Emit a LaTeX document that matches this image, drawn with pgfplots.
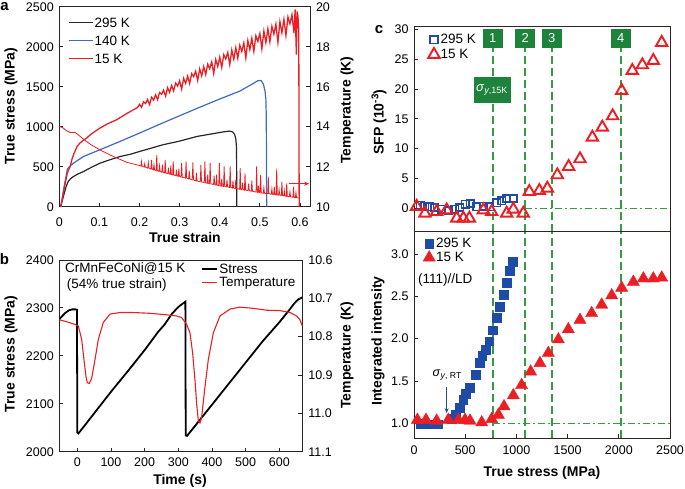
\documentclass[border=0pt]{standalone}
\usepackage{fontspec}
\setmainfont{Liberation Sans}
\usepackage{pgfplots}
\pgfplotsset{compat=1.18}
\usetikzlibrary{arrows.meta}
\definecolor{myred}{RGB}{235,30,36}
\definecolor{ablue}{RGB}{62,105,200}
\definecolor{cblue}{RGB}{30,75,165}
\definecolor{gline}{RGB}{55,155,65}
\definecolor{gbox}{RGB}{28,130,60}
\definecolor{axcol}{RGB}{45,35,35}
\pgfplotsset{
  base/.style={scale only axis, axis line style={axcol, line width=0.9pt}, tick style={axcol, line width=0.9pt},
    tick align=inside, major tick length=4pt,
    tick label style={font=\fontsize{12.5}{14}\selectfont},
    /pgf/number format/assume math mode=true, /pgf/number format/1000 sep={}},
}
\tikzset{lbl/.style={font=\fontsize{14}{16}\selectfont\bfseries}}
\begin{document}
\begin{tikzpicture}
\useasboundingbox (0pt,0pt) rectangle (685pt,-489pt);

% ---------------- Panel a ----------------
\begin{axis}[base, at={(59.3pt,-206.7pt)}, anchor=south west, width=250.7pt, height=200pt,
  xmin=0, xmax=0.625, ymin=0, ymax=2500,
  xtick={0,0.1,0.2,0.3,0.4,0.5,0.6}, ytick={0,500,1000,1500,2000,2500},
  xtick pos=bottom, ytick pos=left,
  xticklabel style={yshift=-7.5pt}, yticklabel style={xshift=-2pt},
  legend style={at={(0.035,0.95)}, anchor=north west, draw=none, fill=none,
    font=\fontsize{13.5}{15}\selectfont, inner sep=0pt, nodes={inner sep=1pt, text height=10pt, text depth=6pt}},
  legend cell align=left,
  legend image code/.code={\draw[#1] (0pt,3.5pt) -- (24pt,3.5pt);}]
\addplot[black!85, line width=1.2pt] coordinates {(0.003,0)(0.010,125)(0.017,251)(0.022,313)(0.028,350)(0.035,376)(0.045,405)(0.060,439)(0.080,492)(0.101,543)(0.125,585)(0.151,627)(0.177,655)(0.200,690)(0.259,775)(0.300,820)(0.343,878)(0.409,935)(0.425,945)(0.432,935)(0.437,905)(0.440,850)(0.4415,760)(0.442,600)(0.4425,0)};
\addlegendentry{295 K}
\addplot[ablue, line width=1.2pt] coordinates {(0.004,0)(0.012,250)(0.020,470)(0.025,500)(0.035,543)(0.060,627)(0.101,711)(0.151,815)(0.200,920)(0.250,1030)(0.300,1137)(0.350,1243)(0.400,1346)(0.450,1445)(0.480,1530)(0.495,1575)(0.503,1578)(0.509,1530)(0.513,1440)(0.515,1340)(0.516,1130)(0.517,0)};
\addlegendentry{140 K}
\addplot[myred, line width=1.3pt] coordinates {(0.003,0)(0.006,60)(0.010,170)(0.014,272)(0.020,420)(0.027,502)(0.032,600)(0.037,669)(0.044,750)(0.051,794)(0.060,830)(0.068,857)(0.080,910)(0.101,982)(0.120,1035)(0.143,1087)(0.170,1170)(0.195,1240)
(0.200,1280)(0.205,1243)(0.210,1310)(0.215,1290)(0.220,1339)(0.225,1276)(0.230,1369)(0.235,1332)(0.240,1398)(0.245,1338)(0.250,1428)(0.255,1406)(0.260,1457)(0.265,1381)(0.270,1487)(0.275,1429)(0.280,1516)(0.285,1447)(0.290,1546)(0.295,1507)(0.300,1575)(0.305,1470)(0.310,1605)(0.315,1542)(0.320,1634)(0.325,1539)(0.330,1664)(0.335,1626)(0.340,1693)(0.345,1578)(0.350,1723)(0.355,1636)(0.360,1752)(0.365,1651)(0.370,1782)(0.375,1724)(0.380,1811)(0.385,1665)(0.390,1841)(0.395,1753)(0.400,1870)(0.405,1740)(0.410,1900)(0.415,1846)(0.420,1929)(0.425,1776)(0.430,1959)(0.435,1843)(0.440,1988)(0.445,1855)(0.450,2018)(0.455,1941)(0.460,2047)(0.465,1859)(0.470,2077)(0.475,1963)(0.480,2106)(0.485,1941)(0.490,2136)(0.495,2066)(0.500,2165)(0.505,1974)(0.510,2195)(0.515,2051)(0.520,2224)(0.525,2059)(0.530,2254)(0.535,2158)(0.540,2283)(0.545,2054)(0.550,2313)(0.555,2173)(0.560,2342)(0.565,2141)(0.570,2372)(0.575,2286)(0.580,2401)(0.585,2171)(0.588,2465)(0.591,1900)(0.593,2440)(0.595,2380)(0.597,2200)(0.598,0)};
\addlegendentry{15 K}
\end{axis}
\begin{axis}[base, at={(59.3pt,-206.7pt)}, anchor=south west, width=250.7pt, height=200pt,
  xmin=0, xmax=0.625, ymin=10, ymax=20, axis x line=none, axis y line*=right,
  ytick={10,12,14,16,18,20}, yticklabel style={xshift=2.5pt}]
\addplot[myred, line width=0.8pt] coordinates {(0,14.01)(0.005,13.98)(0.010,13.93)(0.018,13.80)(0.027,13.71)(0.039,13.71)(0.047,13.60)(0.060,13.38)(0.076,13.14)(0.101,12.84)(0.135,12.51)(0.168,12.22)(0.200,12.06)
(0.2035,12.03)(0.205,12.26)(0.2065,12.03)(0.2115,11.98)(0.213,12.15)(0.2145,11.98)(0.2205,11.93)(0.222,12.20)(0.2235,11.93)(0.2285,11.88)(0.230,12.34)(0.2315,11.88)(0.2345,11.84)(0.236,12.10)(0.2375,11.84)(0.2415,11.80)(0.243,12.59)(0.2445,11.80)(0.2485,11.76)(0.250,12.05)(0.2515,11.76)(0.2555,11.72)(0.257,12.10)(0.2585,11.72)(0.2625,11.69)(0.264,12.34)(0.2655,11.69)(0.2705,11.65)(0.272,11.95)(0.2735,11.65)(0.2765,11.62)(0.278,12.05)(0.2795,11.62)(0.2825,11.59)(0.284,12.26)(0.2855,11.59)(0.2905,11.55)(0.292,11.85)(0.2935,11.55)(0.2965,11.52)(0.298,11.90)(0.2995,11.52)
(0.3035,11.48)(0.305,12.18)(0.3065,11.48)(0.3145,11.43)(0.316,12.26)(0.3175,11.43)(0.3225,11.39)(0.324,11.80)(0.3255,11.39)(0.3315,11.34)(0.333,12.21)(0.3345,11.34)(0.3405,11.29)(0.342,11.70)(0.3435,11.29)(0.3515,11.24)(0.353,12.09)(0.3545,11.24)(0.3615,11.20)(0.363,12.26)(0.3645,11.20)(0.3685,11.17)(0.370,11.60)(0.3715,11.17)(0.3745,11.15)(0.376,12.18)(0.3775,11.15)(0.3845,11.11)(0.386,11.55)(0.3875,11.11)(0.3905,11.08)(0.392,11.60)(0.3935,11.08)(0.3975,11.05)(0.399,12.18)(0.4005,11.05)
(0.4035,11.03)(0.405,11.40)(0.4065,11.03)(0.4095,11.01)(0.411,12.01)(0.4125,11.01)(0.4165,10.99)(0.418,11.35)(0.4195,10.99)(0.4245,10.96)(0.426,12.01)(0.4275,10.96)(0.4315,10.93)(0.433,11.30)(0.4345,10.93)(0.4385,10.91)(0.440,11.35)(0.4415,10.91)(0.4495,10.87)(0.451,11.93)(0.4525,10.87)(0.4555,10.85)(0.457,11.20)(0.4585,10.85)(0.4615,10.83)(0.463,11.67)(0.4645,10.83)(0.4705,10.80)(0.472,11.15)(0.4735,10.80)(0.4785,10.77)(0.480,11.30)(0.4815,10.77)(0.4905,10.73)(0.492,12.01)(0.4935,10.73)(0.4955,10.71)(0.497,11.05)(0.4985,10.71)
(0.5005,10.69)(0.502,11.59)(0.5035,10.69)(0.5085,10.67)(0.510,10.95)(0.5115,10.67)(0.5195,10.65)(0.521,11.50)(0.5225,10.65)(0.5285,10.62)(0.530,10.90)(0.5315,10.62)(0.5345,10.61)(0.536,11.00)(0.5375,10.61)(0.5405,10.59)(0.542,11.90)(0.5435,10.59)(0.5465,10.58)(0.548,10.85)(0.5495,10.58)(0.5535,10.56)(0.555,11.25)(0.5565,10.56)(0.5595,10.54)(0.561,10.80)(0.5625,10.54)(0.5655,10.52)(0.567,11.17)(0.5685,10.52)(0.5735,10.50)(0.575,10.75)(0.5765,10.50)(0.5825,10.47)(0.584,11.00)(0.5855,10.47)(0.5885,10.45)(0.590,10.70)(0.5915,10.45)(0.597,10.43)};
\draw[myred, line width=1pt, -{Stealth[length=5pt,width=4pt]}] (axis cs:0.572,11.15) -- (axis cs:0.623,11.15);
\end{axis}

% ---------------- Panel b ----------------
\begin{axis}[base, at={(59.3pt,-451.7pt)}, anchor=south west, width=243pt, height=191.7pt,
  xmin=-53.5, xmax=668.3, ymin=2000, ymax=2400,
  xtick={0,100,200,300,400,500,600}, ytick={2000,2100,2200,2300,2400},
  xtick pos=bottom, ytick pos=left,
  xticklabel style={yshift=-3pt}, yticklabel style={xshift=-2pt},
  legend style={at={(0.583,0.99)}, anchor=north west, draw=none, fill=none,
    font=\fontsize{13.5}{15}\selectfont, row sep=0pt, inner sep=0pt, nodes={inner sep=1.5pt}},
  legend cell align=left,
  legend image code/.code={\draw[#1] (0pt,0pt) -- (15pt,0pt);}]
\addplot[black, line width=1.8pt] coordinates {(-53.5,2276)(-45,2283)(-35,2290)(-25,2295)(-15,2297)(-5,2297)(-1,2296)(0,2040)(3,2038)(20,2053)(50,2080)(100,2125)(150,2168)(200,2212)(240,2250)(260,2266)(280,2287)(300,2302)(315,2310)(321,2313)(322,2034)(326,2033)(350,2054)(400,2098)(450,2142)(500,2186)(550,2230)(600,2270)(630,2296)(645,2310)(655,2317)(668,2322)};
\addlegendentry{Stress}
\addlegendimage{myred, line width=1.1pt}
\addlegendentry{Temperature}
\end{axis}
\begin{axis}[base, at={(59.3pt,-451.7pt)}, anchor=south west, width=243pt, height=191.7pt,
  xmin=-53.5, xmax=668.3, ymin=10.6, ymax=11.1, y dir=reverse,
  axis x line=none, axis y line*=right,
  ytick={10.6,10.7,10.8,10.9,11.0,11.1}, yticklabel style={xshift=2.5pt, /pgf/number format/fixed, /pgf/number format/fixed zerofill, /pgf/number format/precision=1}]
\addplot[myred, line width=1.1pt] coordinates {(-53.5,10.756)(-31.7,10.761)(-6.9,10.768)(3.0,10.772)(12.9,10.807)(19.8,10.860)(25.7,10.904)(29.7,10.920)(35.6,10.922)(42.6,10.909)(52.5,10.860)(62.4,10.807)(77.2,10.763)(97.0,10.741)(126.7,10.737)(166.3,10.737)(215.8,10.739)(265.3,10.743)(295.0,10.746)(309.9,10.750)(324.8,10.768)(334.7,10.790)(342.6,10.843)(349.5,10.913)(354.5,10.975)(359.4,11.019)(364.4,11.025)(369.3,11.010)(379.2,10.931)(389.1,10.860)(404.0,10.790)(423.8,10.746)(453.5,10.728)(483.2,10.723)(522.8,10.726)(562.4,10.731)(602.0,10.732)(631.7,10.737)(651.5,10.746)(661.4,10.756)(668.3,10.772)};
\end{axis}

% ---------------- Panel c top ----------------
\begin{axis}[base, at={(414pt,-231.7pt)}, anchor=south west, width=256pt, height=205.7pt,
  xmin=0, xmax=2500, ymin=-3.92, ymax=30.55,
  xtick=\empty, ytick={0,5,10,15,20,25,30}, ytick pos=left,
  yticklabel style={xshift=-2pt},
  legend style={at={(0.055,0.965)}, anchor=north west, draw=none, fill=none,
    font=\fontsize{13.5}{15}\selectfont, row sep=2pt, inner sep=0pt, nodes={inner sep=0.8pt}},
  legend cell align=left,
  legend image code/.code={\draw[#1] plot coordinates {(0pt,0pt)};}]
\draw[gline, line width=1.9pt, dash pattern=on 8pt off 4pt] (axis cs:768,-3.92) -- (axis cs:768,26.8);
\draw[gline, line width=1.9pt, dash pattern=on 8pt off 4pt] (axis cs:1086,-3.92) -- (axis cs:1086,26.8);
\draw[gline, line width=1.9pt, dash pattern=on 8pt off 4pt] (axis cs:1346,-3.92) -- (axis cs:1346,26.8);
\draw[gline, line width=1.9pt, dash pattern=on 8pt off 4pt] (axis cs:2018,-3.92) -- (axis cs:2018,26.8);
\draw[gline, line width=1.6pt, dash pattern=on 7pt off 3pt on 2pt off 3pt] (axis cs:1086,0) -- (axis cs:2500,0);
\addplot[only marks, mark=square, mark size=3.7pt, mark options={draw=cblue, line width=1.6pt, fill=white}] coordinates {(59,0.54)(107,0.37)(156,0.25)(205,0.15)(270,-0.18)(335,-0.42)(400,-0.18)(449,0.15)(498,0.70)(547,0.82)(612,0.25)(677,0.37)(742,0.25)(807,0.92)(856,1.26)(905,1.66)(970,1.66)};
\addlegendentry{295 K}
\addplot[only marks, mark=triangle, mark size=6.6pt, mark options={draw=myred, line width=1.9pt, fill=white}] coordinates {(26,0.3)(107,-0.85)(221,-0.57)(319,-0.29)(417,-1.68)(482,-1.68)(541,-1.68)(677,-0.29)(758,-0.57)(905,-0.85)(970,-0.18)(1067,-0.85)(1126,2.79)(1224,2.96)(1302,3.35)(1400,5.59)(1510,6.98)(1621,8.27)(1742,11.9)(1839,13.58)(1940,15.47)(2028,19.72)(2132,23.07)(2230,24.02)(2337,24.75)(2419,27.77)};
\addlegendentry{15 K}
\node[fill=gbox, text=white, minimum width=20pt, minimum height=19pt, inner sep=0pt, font=\fontsize{13}{13}\selectfont] at (axis cs:768,28.5) {1};
\node[fill=gbox, text=white, minimum width=20pt, minimum height=19pt, inner sep=0pt, font=\fontsize{13}{13}\selectfont] at (axis cs:1086,28.5) {2};
\node[fill=gbox, text=white, minimum width=20pt, minimum height=19pt, inner sep=0pt, font=\fontsize{13}{13}\selectfont] at (axis cs:1346,28.5) {3};
\node[fill=gbox, text=white, minimum width=20pt, minimum height=19pt, inner sep=0pt, font=\fontsize{13}{13}\selectfont] at (axis cs:2018,28.5) {4};
\node[fill=gbox, text=white, minimum width=37pt, minimum height=26pt, inner sep=0pt, font=\fontsize{13}{13}\selectfont] at (axis cs:762,19.8) {\textit{σ}\textsubscript{\textit{y},15K}};
\end{axis}

% ---------------- Panel c bottom ----------------
\begin{axis}[base, at={(414pt,-438.3pt)}, anchor=south west, width=256pt, height=206.6pt,
  xmin=0, xmax=2500, ymin=0.823, ymax=3.263,
  xtick={0,500,1000,1500,2000,2500}, ytick={1,1.5,2,2.5,3},
  xtick pos=bottom, ytick pos=left,
  xticklabel style={yshift=-4pt},
  yticklabel style={xshift=-2pt, /pgf/number format/fixed, /pgf/number format/fixed zerofill, /pgf/number format/precision=1},
  legend style={at={(0.035,0.975)}, anchor=north west, draw=none, fill=none,
    font=\fontsize{13.5}{15}\selectfont, row sep=1pt, inner sep=0pt, nodes={inner sep=0.8pt}},
  legend cell align=left,
  legend image code/.code={\draw[#1] plot coordinates {(0pt,0pt)};}]
\draw[gline, line width=1.9pt, dash pattern=on 8pt off 4pt] (axis cs:768,0.823) -- (axis cs:768,3.263);
\draw[gline, line width=1.9pt, dash pattern=on 8pt off 4pt] (axis cs:1086,0.823) -- (axis cs:1086,3.263);
\draw[gline, line width=1.9pt, dash pattern=on 8pt off 4pt] (axis cs:1346,0.823) -- (axis cs:1346,3.263);
\draw[gline, line width=1.9pt, dash pattern=on 8pt off 4pt] (axis cs:2018,0.823) -- (axis cs:2018,3.263);
\draw[gline, line width=1.6pt, dash pattern=on 7pt off 3pt on 2pt off 3pt] (axis cs:768,1) -- (axis cs:2500,1);
\addplot[only marks, mark=square*, mark size=4.4pt, mark options={draw=cblue, fill=cblue}] coordinates {(65,1.0)(150,0.99)(230,0.99)(370,1.05)(410,1.10)(445,1.18)(480,1.28)(505,1.35)(540,1.42)(600,1.57)(640,1.72)(665,1.80)(700,1.87)(735,1.97)(770,2.10)(805,2.25)(835,2.38)(875,2.52)(905,2.66)(935,2.80)(965,2.91)};
\addlegendentry{295 K}
\addplot[only marks, mark=triangle*, mark size=7pt, mark options={draw=myred, fill=myred}] coordinates {(33,1.04)(117,1.04)(221,1.03)(335,1.04)(433,1.04)(498,1.04)(547,1.03)(661,1.01)(759,1.05)(824,1.10)(879,1.20)(970,1.33)(1051,1.45)(1139,1.61)(1230,1.71)(1312,1.83)(1410,1.99)(1507,2.11)(1621,2.22)(1735,2.30)(1833,2.40)(1931,2.51)(2028,2.60)(2142,2.67)(2240,2.71)(2337,2.71)(2419,2.72)};
\addlegendentry{15 K}
\node[anchor=west, font=\fontsize{13.5}{15}\selectfont, inner sep=0pt] at (axis cs:39,2.69) {(111)//LD};
\node[font=\fontsize{12.5}{12}\selectfont] at (axis cs:325,1.57) {\textit{σ}\textsubscript{\textit{y}, RT}};
\draw[cblue, line width=1pt, -{Stealth[length=5pt,width=4pt]}] (axis cs:319,1.43) -- (axis cs:319,1.12);
\end{axis}

% ---------------- labels ----------------
\node[lbl, rotate=90] at (11pt,-106pt) {True stress (MPa)};
\node[lbl] at (185pt,-237pt) {True strain};
\node[lbl, rotate=90] at (347pt,-110pt) {Temperature (K)};
\node[lbl, rotate=90] at (11pt,-354pt) {True stress (MPa)};
\node[lbl, rotate=90] at (347pt,-355pt) {Temperature (K)};
\node[lbl] at (180pt,-481pt) {Time (s)};
\node[lbl, rotate=90] at (379pt,-122pt) {SFP (10\textsuperscript{-3})};
\node[lbl, rotate=90] at (378pt,-341pt) {Integrated intensity};
\node[lbl] at (542pt,-473pt) {True stress (MPa)};
\node[font=\fontsize{15}{15}\selectfont\bfseries] at (4.5pt,-7pt) {a};
\node[font=\fontsize{15}{15}\selectfont\bfseries] at (4.5pt,-259pt) {b};
\node[font=\fontsize{15}{15}\selectfont\bfseries] at (379pt,-30pt) {c};
\node[anchor=west, font=\fontsize{13.5}{15}\selectfont, inner sep=0pt] at (65pt,-268.3pt) {CrMnFeCoNi@15 K};
\node[anchor=west, font=\fontsize{13.5}{15}\selectfont, inner sep=0pt] at (66.7pt,-285pt) {(54\% true strain)};
\end{tikzpicture}
\end{document}
